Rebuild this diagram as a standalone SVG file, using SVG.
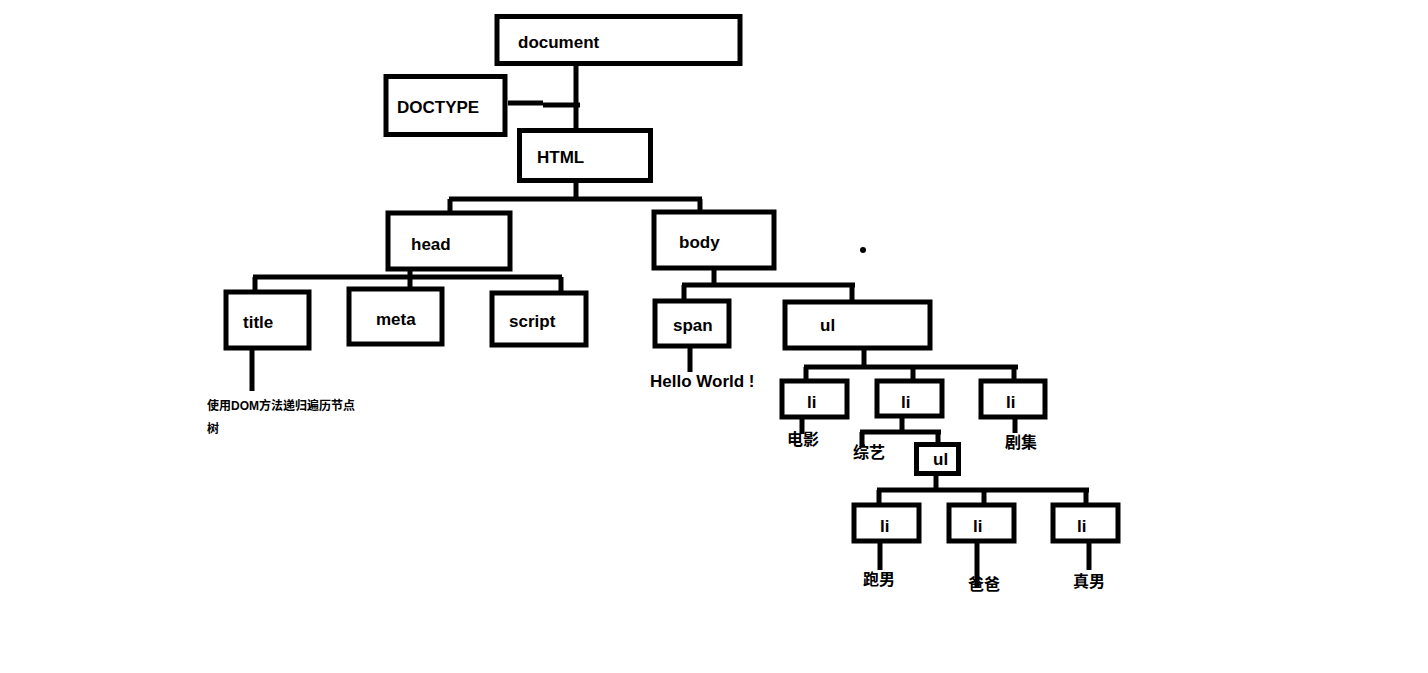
<svg xmlns="http://www.w3.org/2000/svg" width="1428" height="673" viewBox="0 0 1428 673">
<style>
.box{fill:#fff;stroke:#000;stroke-width:5}
.ln{fill:none;stroke:#000;stroke-width:5;stroke-linecap:butt;stroke-linejoin:miter}
.t{font-family:"Liberation Sans","Noto Sans CJK SC",sans-serif;font-weight:bold;font-size:17px;fill:#000}
.c{font-family:"Noto Sans CJK SC","Liberation Sans",sans-serif;font-weight:bold;font-size:16px;fill:#000}
.s{font-family:"Liberation Sans","Noto Sans CJK SC",sans-serif;font-weight:bold;font-size:12px;fill:#000}
</style>
<rect width="1428" height="673" fill="#fff"/>
<g id="connectors">
<path class="ln" d="M576 66V130"/>
<path class="ln" d="M508 103H543M543 105H580"/>
<path class="ln" d="M576 183V199M449 199H702M450 199V211M700 199V210"/>
<path class="ln" d="M410 271V278M253 277H562M255 277V290M410 277V291M561 277V292"/>
<path class="ln" d="M252 350V391"/>
<path class="ln" d="M714 270V287M682 285H855M684 285V300M852 285V301"/>
<path class="ln" d="M690 348V372"/>
<path class="ln" d="M864 350V367M804 367H1018M806 367V380M913 367V380M1014 367V380"/>
<path class="ln" d="M802 419V434"/>
<path class="ln" d="M902 418V433M860 432H941M862 432V447M938 432V443"/>
<path class="ln" d="M1015 419V433"/>
<path class="ln" d="M936 475V490M877 490H1089M879 490V504M984 490V504M1086 490V504"/>
<path class="ln" d="M880 543V570"/>
<path class="ln" d="M977 540V588"/>
<path class="ln" d="M1089 543V570"/>
<circle cx="863" cy="250" r="3" fill="#000"/>
</g>
<g id="document"><rect class="box" x="497" y="16.5" width="243" height="47"/><text class="t" x="518" y="48">document</text></g>
<g id="doctype"><rect class="box" x="386" y="76.5" width="119" height="58"/><text class="t" x="397" y="113" font-size="16">DOCTYPE</text></g>
<g id="html"><rect class="box" x="519.5" y="130.5" width="131" height="50"/><text class="t" x="537" y="163">HTML</text></g>
<g id="head"><rect class="box" x="388" y="213" width="122" height="56"/><text class="t" x="411" y="250">head</text></g>
<g id="body"><rect class="box" x="654" y="212" width="120" height="56"/><text class="t" x="679" y="248">body</text></g>
<g id="title"><rect class="box" x="226" y="292" width="83" height="56"/><text class="t" x="243" y="328">title</text>
<text class="s" x="207" y="410">使用DOM方法递归遍历节点</text><text class="s" x="207" y="433">树</text></g>
<g id="meta"><rect class="box" x="349" y="289" width="93" height="55"/><text class="t" x="376" y="325">meta</text></g>
<g id="script"><rect class="box" x="492" y="293" width="94" height="52"/><text class="t" x="509" y="327">script</text></g>
<g id="span"><rect class="box" x="655" y="301" width="74" height="45"/><text class="t" x="673" y="331">span</text>
<text class="t" x="650" y="387">Hello World !</text></g>
<g id="ul"><rect class="box" x="785" y="302" width="145" height="46"/><text class="t" x="820" y="331">ul</text></g>
<g id="li1"><rect class="box" x="782" y="381" width="65" height="36"/><text class="t" x="807" y="408">li</text><text class="c" x="787" y="445">电影</text></g>
<g id="li2"><rect class="box" x="877" y="381" width="65" height="35"/><text class="t" x="901" y="408">li</text><text class="c" x="853" y="458">综艺</text></g>
<g id="li3"><rect class="box" x="981" y="381" width="64" height="36"/><text class="t" x="1006" y="408">li</text><text class="c" x="1005" y="448">剧集</text></g>
<g id="ul2"><rect class="box" x="916.5" y="444.5" width="42" height="29"/><text class="t" x="933" y="465">ul</text></g>
<g id="li4"><rect class="box" x="854" y="505" width="65" height="36"/><text class="t" x="880" y="532">li</text><text class="c" x="863" y="585">跑男</text></g>
<g id="li5"><rect class="box" x="949" y="505" width="65" height="36"/><text class="t" x="973" y="532">li</text><text class="c" x="968" y="590">爸爸</text></g>
<g id="li6"><rect class="box" x="1053" y="505" width="65" height="36"/><text class="t" x="1077" y="532">li</text><text class="c" x="1073" y="587">真男</text></g>
</svg>
